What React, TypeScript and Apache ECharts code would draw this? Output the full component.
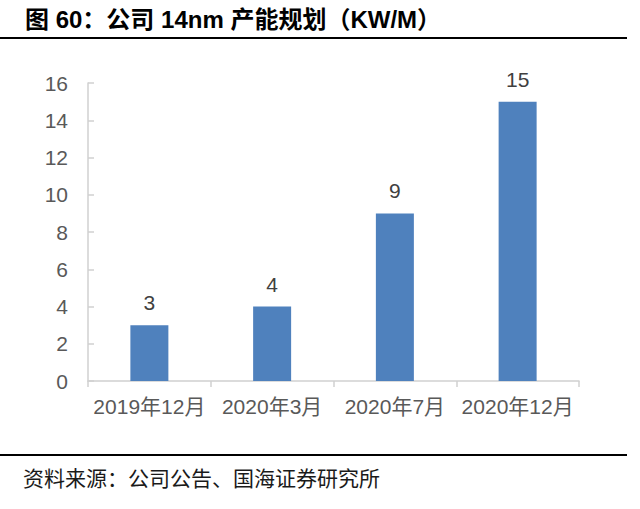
import React, { useEffect, useRef } from "react";
import * as echarts from "echarts";

const categories = ["2019年12月", "2020年3月", "2020年7月", "2020年12月"];
const capacity = [3, 4, 9, 15];
const yTicks = { min: 0, max: 16, interval: 2 };
const titleText = "图 60：公司 14nm 产能规划（KW/M）";
const sourceText = "资料来源：公司公告、国海证券研究所";

const FONT = "'Liberation Sans', Arial, 'Noto Sans CJK SC', sans-serif";

export default function App() {
  const ref = useRef<HTMLDivElement>(null);
  useEffect(() => {
    document.body.style.margin = "0";
    const chart = echarts.init(ref.current!, null, { renderer: "svg" });
    chart.setOption({
      animation: false,
      backgroundColor: "#ffffff",
      grid: { left: 88, right: 61, top: 83, bottom: 128, containLabel: false },
      xAxis: {
        type: "category",
        data: categories,
        boundaryGap: true,
        axisLine: { show: true, lineStyle: { color: "#d0d0d0", width: 1.5 } },
        axisTick: { show: true, length: 6, lineStyle: { color: "#d0d0d0", width: 1.5 } },
        axisLabel: { interval: 0, color: "#595959", fontSize: 21, fontFamily: FONT, margin: 15 },
      },
      yAxis: {
        type: "value",
        min: yTicks.min,
        max: yTicks.max,
        interval: yTicks.interval,
        splitLine: { show: false },
        axisLine: { show: true, lineStyle: { color: "#d0d0d0", width: 1.5 } },
        axisTick: { show: true, inside: true, length: 6, lineStyle: { color: "#d0d0d0", width: 1.5 } },
        axisLabel: { color: "#595959", fontSize: 21, fontFamily: FONT, margin: 20 },
      },
      series: [
        {
          type: "bar",
          data: capacity,
          barWidth: 38,
          itemStyle: { color: "#4f81bd" },
          label: {
            show: true,
            position: "top",
            distance: 12,
            color: "#404040",
            fontSize: 21,
            fontFamily: FONT,
          },
        },
      ],
      graphic: [
        {
          type: "text",
          left: 25,
          top: 7,
          style: {
            text: titleText,
            fontSize: 24,
            fontWeight: "bold",
            fontFamily: FONT,
            fill: "#000000",
          },
        },
        {
          type: "line",
          shape: { x1: 0, y1: 38, x2: 627, y2: 38 },
          style: { stroke: "#000000", lineWidth: 2 },
        },
        {
          type: "line",
          shape: { x1: 0, y1: 455, x2: 627, y2: 455 },
          style: { stroke: "#000000", lineWidth: 2 },
        },
        {
          type: "text",
          left: 23,
          top: 466,
          style: {
            text: sourceText,
            fontSize: 21,
            fontFamily: "'Noto Sans CJK SC', serif",
            fill: "#1a1a1a",
          },
        },
      ],
    });
    return () => chart.dispose();
  }, []);
  return <div ref={ref} style={{ width: 640, height: 509 }} />;
}
